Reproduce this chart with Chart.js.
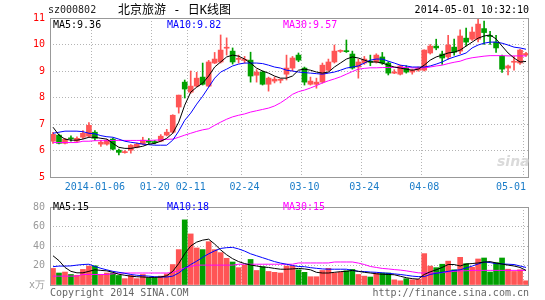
<!DOCTYPE html>
<html>
<head>
<meta charset="utf-8">
<script src="https://cdn.jsdelivr.net/npm/chart.js@4"></script>
<style>
  body { margin: 0; background: #fff; }
  #wrap { position: relative; width: 545px; height: 300px; overflow: hidden; }
  #wrap canvas { position: absolute; left: 0; }
  .txt { position: absolute; font: 10px "DejaVu Sans Mono", monospace; line-height: 12px; white-space: pre; }
</style>
</head>
<body>
<div id="wrap">
  <canvas id="kChart" width="545" height="196" style="top:0"></canvas>
  <canvas id="volChart" width="545" height="104" style="top:196px"></canvas>

  <div class="txt" style="left:48px;top:4px;color:#222">sz000802</div>
  <div class="txt" style="left:118px;top:3px;font-size:12px;line-height:14px;font-family:'DejaVu Sans Mono','Noto Sans CJK SC';color:#000">北京旅游 - 日K线图</div>
  <div class="txt" style="right:16px;top:4px;color:#000">2014-05-01 10:32:10</div>

  <div class="txt" style="left:53px;top:19px;color:#000">MA5:9.36</div>
  <div class="txt" style="left:167px;top:19px;color:#0000ff">MA10:9.82</div>
  <div class="txt" style="left:283px;top:19px;color:#ff00ff">MA30:9.57</div>

  <div class="txt" style="left:53px;top:201px;color:#000">MA5:15</div>
  <div class="txt" style="left:167px;top:201px;color:#0000ff">MA10:18</div>
  <div class="txt" style="left:283px;top:201px;color:#ff00ff">MA30:15</div>

  <div class="txt" style="left:497px;top:153px;font:italic bold 14px 'DejaVu Sans';color:#dadada">sina</div>

  <div class="txt" style="left:50px;top:287px;color:#666">Copyright 2014 SINA.COM</div>
  <div class="txt" style="right:16px;top:287px;color:#666">http://finance.sina.com.cn</div>
</div>

<script>
/* The data */
const trade_dates = [
  '2013-12-25','2013-12-26','2013-12-27','2013-12-30','2013-12-31','2014-01-02','2014-01-03','2014-01-06','2014-01-07','2014-01-08',
  '2014-01-09','2014-01-10','2014-01-13','2014-01-14','2014-01-15','2014-01-16','2014-01-17','2014-01-20','2014-01-21','2014-01-22',
  '2014-01-23','2014-01-24','2014-01-27','2014-02-11','2014-02-12','2014-02-13','2014-02-14','2014-02-17','2014-02-18','2014-02-19',
  '2014-02-20','2014-02-21','2014-02-24','2014-02-25','2014-02-26','2014-02-27','2014-02-28','2014-03-03','2014-03-04','2014-03-05',
  '2014-03-06','2014-03-07','2014-03-10','2014-03-11','2014-03-12','2014-03-13','2014-03-14','2014-03-17','2014-03-18','2014-03-19',
  '2014-03-20','2014-03-21','2014-03-24','2014-03-25','2014-03-26','2014-03-27','2014-03-28','2014-03-31','2014-04-01','2014-04-02',
  '2014-04-03','2014-04-04','2014-04-08','2014-04-09','2014-04-10','2014-04-11','2014-04-14','2014-04-15','2014-04-16','2014-04-17',
  '2014-04-18','2014-04-21','2014-04-22','2014-04-23','2014-04-24','2014-04-25','2014-04-28','2014-04-29','2014-04-30','2014-05-01'
];

const open_prices = [
  6.35,6.58,6.27,6.47,6.35,6.50,6.54,6.69,6.24,6.24,
  6.43,6.01,5.92,6.01,6.12,6.24,6.35,6.33,6.35,6.58,
  6.69,7.64,8.58,8.20,8.43,8.77,8.43,9.30,9.34,9.86,
  9.75,9.44,9.40,9.41,8.84,8.96,8.50,8.62,8.65,8.88,
  9.11,9.60,9.11,8.50,8.50,8.58,9.03,9.34,9.74,9.76,
  9.64,9.15,9.30,9.35,9.34,9.53,9.30,8.92,8.88,9.11,
  8.96,9.03,9.03,9.68,9.94,9.64,9.53,9.90,9.75,10.24,
  10.20,10.20,10.60,10.33,10.09,9.56,9.11,9.33,9.30,9.60
];
const close_prices = [
  6.61,6.27,6.43,6.44,6.46,6.65,6.95,6.46,6.31,6.39,
  6.05,5.93,5.94,6.20,6.24,6.39,6.31,6.30,6.54,6.69,
  7.33,8.09,8.32,8.43,8.73,8.50,9.34,9.45,9.79,9.88,
  9.34,9.46,9.42,8.81,8.96,8.50,8.73,8.69,8.67,9.11,
  9.49,9.41,8.58,8.62,8.58,9.22,9.34,9.75,9.76,9.73,
  9.11,9.34,9.45,9.33,9.60,9.30,8.92,8.96,9.19,8.96,
  9.03,9.11,9.79,9.94,9.87,9.49,9.98,9.71,10.32,10.09,
  10.47,10.77,10.45,10.30,9.87,9.07,9.19,9.35,9.79,9.66
];
const high_prices = [
  6.69,6.62,6.46,6.55,6.52,6.75,7.05,6.75,6.38,6.42,
  6.47,6.05,6.00,6.22,6.28,6.50,6.45,6.38,6.60,6.80,
  7.35,8.09,8.66,9.00,8.95,9.30,9.40,9.70,10.36,10.25,
  9.87,9.60,9.55,9.71,9.05,9.00,8.77,8.77,8.70,9.60,
  9.55,9.68,9.15,8.77,8.73,9.30,9.45,9.98,9.80,10.17,
  9.75,9.45,9.55,9.60,9.65,9.70,9.35,9.05,9.22,9.20,
  9.07,9.15,9.80,10.00,10.20,9.75,10.35,10.20,10.55,10.62,
  10.66,10.95,10.88,10.50,10.35,9.60,9.22,9.55,9.82,9.70
];
const low_prices = [
  6.27,6.25,6.25,6.35,6.33,6.45,6.50,6.38,6.15,6.20,
  6.02,5.83,5.90,5.90,6.10,6.22,6.25,6.25,6.33,6.55,
  6.65,7.41,7.98,8.16,8.40,8.47,8.40,9.28,9.30,9.60,
  9.26,9.30,9.30,8.58,8.58,8.47,8.24,8.55,8.55,8.66,
  9.00,9.35,8.47,8.47,8.35,8.54,8.99,9.30,9.70,9.70,
  9.07,8.73,9.25,9.20,9.30,9.25,8.85,8.90,8.85,8.92,
  8.88,8.99,9.00,9.64,9.80,9.25,9.45,9.60,9.65,9.95,
  10.15,10.10,10.00,10.00,9.70,8.95,8.85,9.03,9.25,9.55
];

const ma5_prices = [
  6.88,6.58,6.43,6.39,6.39,6.43,6.50,6.50,6.46,6.43,
  6.27,6.12,6.08,6.08,6.12,6.16,6.24,6.27,6.35,6.46,
  6.65,7.07,7.71,8.20,8.39,8.54,8.81,9.15,9.34,9.53,
  9.60,9.56,9.45,9.30,9.11,9.00,8.92,8.81,8.73,8.73,
  8.81,9.03,9.07,9.03,8.96,8.92,8.96,9.15,9.30,9.45,
  9.53,9.49,9.41,9.34,9.34,9.30,9.22,9.15,9.11,9.07,
  9.03,9.07,9.22,9.41,9.53,9.60,9.68,9.71,9.79,9.94,
  10.09,10.24,10.32,10.36,10.21,9.94,9.68,9.49,9.34,9.36
];
const ma10_prices = [
  6.65,6.69,6.73,6.73,6.73,6.71,6.65,6.63,6.56,6.52,
  6.50,6.43,6.35,6.31,6.28,6.24,6.22,6.20,6.20,6.20,
  6.39,6.73,7.14,7.41,7.75,8.05,8.39,8.73,8.96,9.07,
  9.19,9.26,9.30,9.30,9.30,9.28,9.22,9.15,9.11,9.03,
  9.00,8.96,8.94,8.92,8.90,8.88,8.92,8.96,9.03,9.11,
  9.15,9.19,9.30,9.41,9.45,9.45,9.37,9.30,9.22,9.19,
  9.15,9.15,9.15,9.19,9.26,9.34,9.45,9.53,9.60,9.68,
  9.87,9.98,10.05,10.09,10.09,10.05,9.98,9.90,9.87,9.82
];
const ma30_prices = [
  6.30,6.30,6.30,6.30,6.30,6.35,6.35,6.37,6.37,6.37,
  6.38,6.38,6.38,6.38,6.38,6.38,6.38,6.39,6.40,6.42,
  6.43,6.50,6.58,6.65,6.72,6.78,6.82,6.95,7.07,7.18,
  7.27,7.33,7.38,7.45,7.50,7.55,7.60,7.68,7.80,7.95,
  8.12,8.22,8.28,8.36,8.45,8.55,8.63,8.70,8.78,8.88,
  8.98,9.07,9.10,9.12,9.12,9.13,9.13,9.14,9.14,9.13,
  9.12,9.11,9.12,9.15,9.19,9.22,9.28,9.33,9.37,9.45,
  9.50,9.53,9.56,9.58,9.58,9.58,9.57,9.57,9.57,9.57
];

const volumes = [
  17,12.3,13.3,10.8,10,16,19.4,19.7,10.8,12.3,
  12.3,9.8,6.5,9.8,6.5,10.8,7.5,7.5,9.1,11.4,
  21,36.3,66.8,52.4,38,36.3,44.4,36.3,33.2,27.4,
  23.6,17.8,20.4,26.2,14.9,18.8,13.9,13,12.3,19.4,
  19.4,15.6,13,8.5,8.5,14.9,17.1,12.3,13,14.6,
  16,10.8,9.1,8.2,12.3,12.3,12.3,5.3,4.3,6.5,
  5.3,6,32.2,19.4,17.8,21.3,24.5,15.6,28.4,21.9,
  18.1,26.7,27.7,13.3,22.9,27.7,16.2,13.9,15.6,4.3
];
const vol_ma5 = [
  30,25,18,14,12.5,12.5,14,15.6,15,14.5,
  13,11,10,9,8.5,8.2,7.8,7.8,8.2,9.5,
  14,22,32,40,44,46,47,42,36,31,
  27,24,22,20.5,19.5,18.5,18,17,16.2,16.2,
  16.5,17,16.5,15.6,13,12.3,12.3,13,13.7,14,
  15,14,13,12.3,11.5,11,10.8,10.5,9,7.5,
  6.5,6,10.8,13.5,15.6,18,21,21,19.5,21.5,
  22,22.6,23.5,24,22.6,21.5,20.4,19.5,18,15
];
const vol_ma10 = [
  18.8,19.4,19.4,19.6,20.4,21,21.3,19,17.1,15.5,
  14,13,12,10.8,10,9.5,9.1,8.5,8.2,8.2,
  9.1,12.3,17.1,21,24.5,28.4,32,35,37.5,38.3,
  38.6,37,34.8,32,30,28,26,24,22.5,21.3,
  20,19,18.8,17.8,17.1,16.5,16.2,16.2,16.2,16.2,
  15,14,13.8,13.3,13,12.5,12,11.4,10.8,10,
  9.1,8.6,8.6,10.8,12,13,14,15,15.6,17.5,
  19.4,21.5,23.6,23,21.9,21.6,21.3,21,19.5,18
];
const vol_ma30 = [
  9.1,9.1,9.1,9.1,9.1,10.8,10.8,10.8,10.8,10.8,
  11.5,12.3,12.3,12.3,12.3,12.3,12.3,12.3,12.3,12.3,
  12.8,15,17.5,19,20.4,20.4,20.4,20.4,20.4,20.4,
  20.4,21.3,21.3,21.3,21.3,21.3,21.3,21.3,21.3,21.3,
  21.3,22.6,22.6,22.6,22.6,22.6,22.6,23.6,23.6,23.6,
  23.6,22.5,21,19,18,17,16.5,15.8,15.3,14.5,
  13.5,12.5,12.3,12.3,12.3,12.6,13.5,14,14.5,14.6,
  15,15,15,15,15,15,15,15,15,15
];

const tick_index = [7, 17, 23, 32, 42, 52, 62, 79];
const tick_text = ['2014-01-06', '01-20', '02-11', '02-24', '03-10', '03-24', '04-08', '05-01'];

/* Styles */
const up_color = '#ff5555';
const down_color = '#00a000';
const grid_color = '#b4b4b4';
const frame_color = '#999999';
const mono_font = { family: '"DejaVu Sans Mono", monospace', size: 10 };

const candle_colors = open_prices.map((o, i) => close_prices[i] >= o ? up_color : down_color);

// draw the grey box around each plot area
const framePlugin = {
  id: 'frame',
  afterDraw: (chart) => {
    const a = chart.chartArea;
    const ctx = chart.ctx;
    ctx.save();
    ctx.strokeStyle = frame_color;
    ctx.lineWidth = 1;
    ctx.strokeRect(Math.round(a.left) + 0.5, Math.round(a.top) + 0.5,
      Math.round(a.right - a.left) - 1, Math.round(a.bottom - a.top));
    ctx.restore();
  }
};

const xGridColor = (ctx) => tick_index.includes(ctx.index) ? grid_color : 'rgba(0,0,0,0)';

const lineSet = (label, data, color) => ({
  type: 'line',
  label: label,
  data: data,
  borderColor: color,
  borderWidth: 1,
  pointRadius: 0,
  tension: 0,
  order: 0
});

/* Candle chart */
const buildKChart = () => {
  const data = {
    labels: trade_dates,
    datasets: [
      lineSet('MA5', ma5_prices, '#000000'),
      lineSet('MA10', ma10_prices, '#0000ff'),
      lineSet('MA30', ma30_prices, '#ff00ff'),
      {
        type: 'bar',
        label: 'body',
        data: open_prices.map((o, i) => [o, close_prices[i]]),
        backgroundColor: candle_colors,
        barThickness: 5,
        minBarLength: 1,
        grouped: false,
        order: 1
      },
      {
        type: 'bar',
        label: 'wick',
        data: low_prices.map((l, i) => [l, high_prices[i]]),
        backgroundColor: candle_colors,
        barThickness: 1,
        grouped: false,
        order: 2
      }
    ]
  };
  return new Chart(document.getElementById('kChart'), {
    data: data,
    plugins: [framePlugin],
    options: {
      responsive: false,
      animation: false,
      layout: { padding: { left: 0, right: 16, top: 18, bottom: 0 } },
      plugins: { legend: { display: false }, tooltip: { enabled: false } },
      scales: {
        x: {
          type: 'category',
          offset: true,
          afterFit: (scale) => { scale.height = 19; },
          grid: { offset: true, drawTicks: false, color: xGridColor },
          border: { display: false, dash: [1, 2] },
          ticks: {
            autoSkip: false,
            maxRotation: 0,
            minRotation: 0,
            align: 'inner',
            padding: 4,
            color: '#1a7cc8',
            font: mono_font,
            callback: (v, i) => {
              const k = tick_index.indexOf(i);
              return k >= 0 ? tick_text[k] : '';
            }
          }
        },
        y: {
          min: 5,
          max: 11,
          afterFit: (scale) => { scale.width = 50; },
          grid: { drawTicks: false, color: grid_color },
          border: { display: false, dash: [1, 2] },
          ticks: { stepSize: 1, padding: 5, color: '#ff0000', font: mono_font }
        }
      }
    }
  });
};

/* Volume chart */
const buildVolChart = () => {
  const data = {
    labels: trade_dates,
    datasets: [
      lineSet('MA5', vol_ma5, '#000000'),
      lineSet('MA10', vol_ma10, '#0000ff'),
      lineSet('MA30', vol_ma30, '#ff00ff'),
      {
        type: 'bar',
        label: 'volume',
        data: volumes,
        backgroundColor: candle_colors,
        barThickness: 5,
        order: 1
      }
    ]
  };
  return new Chart(document.getElementById('volChart'), {
    data: data,
    plugins: [framePlugin],
    options: {
      responsive: false,
      animation: false,
      layout: { padding: { left: 0, right: 16, top: 5, bottom: 0 } },
      plugins: { legend: { display: false }, tooltip: { enabled: false } },
      scales: {
        x: {
          type: 'category',
          offset: true,
          afterFit: (scale) => { scale.height = 15; },
          grid: { offset: true, drawTicks: false, color: xGridColor },
          border: { display: false, dash: [1, 2] },
          ticks: { display: false, autoSkip: false }
        },
        y: {
          min: 0,
          max: 80,
          afterFit: (scale) => { scale.width = 50; },
          grid: { drawTicks: false, color: grid_color },
          border: { display: false, dash: [1, 2] },
          ticks: {
            stepSize: 20,
            padding: 5,
            color: '#999999',
            font: mono_font,
            callback: (v) => v === 0 ? 'x万' : v
          }
        }
      }
    }
  });
};

/* main */
buildKChart();
buildVolChart();
</script>
</body>
</html>
